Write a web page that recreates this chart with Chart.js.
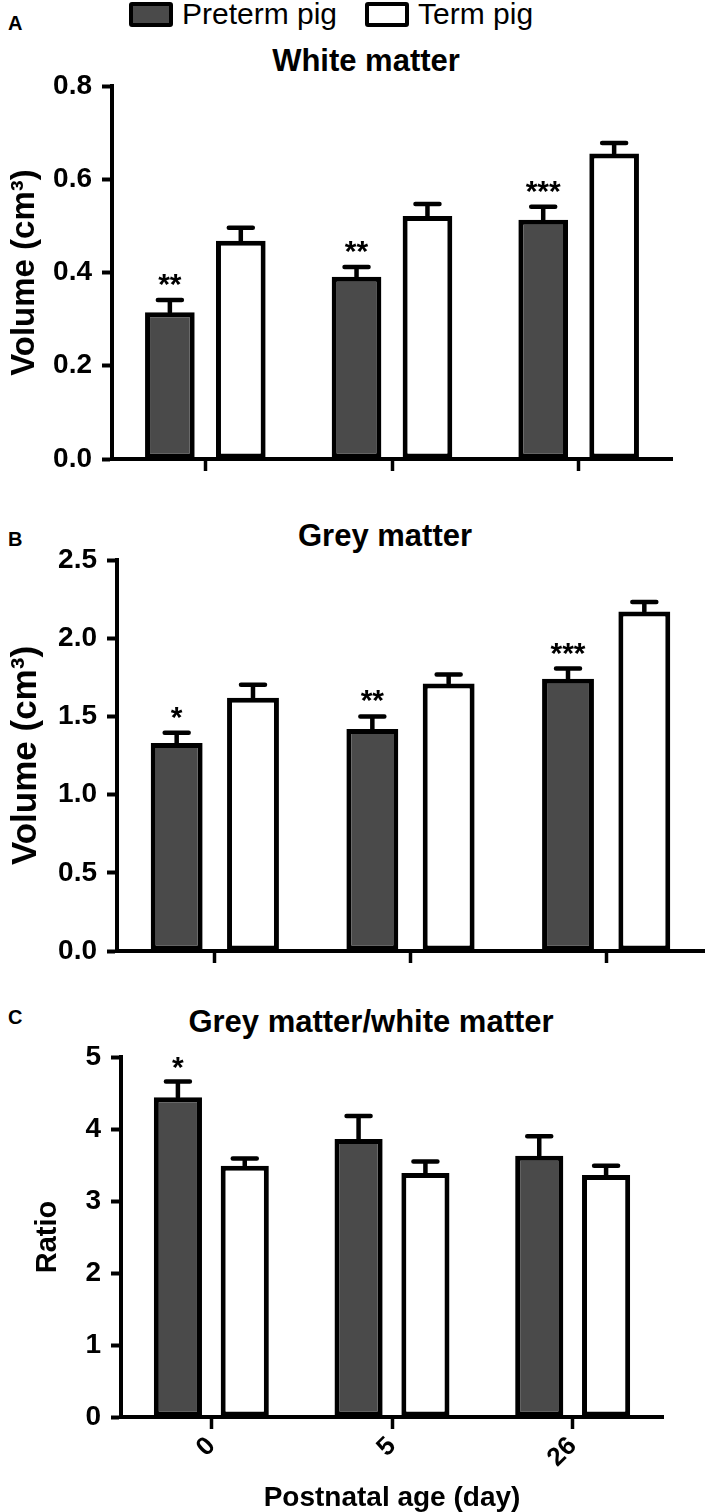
<!DOCTYPE html>
<html>
<head>
<meta charset="utf-8">
<script src="https://cdn.jsdelivr.net/npm/chart.js@4.4.0/dist/chart.umd.min.js"></script>
<style>
  body { margin: 0; background: #fff; width: 709px; height: 1512px; overflow: hidden; position: relative;
         font-family: 'Liberation Sans', Arial, sans-serif; color: #000; }
  canvas { position: absolute; left: 0; }
  .panel-letter { position: absolute; left: 8px; font-weight: bold; font-size: 20px; line-height: 20px; }
  .panel-title { position: absolute; font-weight: bold; font-size: 31px; line-height: 34px;
                 transform: translateX(-50%); white-space: nowrap; }
  .legend { position: absolute; top: 0; left: 129px; height: 28px; display: flex; align-items: center; font-size: 30px; }
  .swatch { width: 36px; height: 17px; border: 4.5px solid #000; border-radius: 3px; margin-right: 9px; }
  .legend span.txt { margin-right: 28px; }
</style>
</head>
<body>
<div class="legend">
  <div class="swatch" style="background:#4a4a4a"></div><span class="txt">Preterm pig</span>
  <div class="swatch" style="background:#fff"></div><span class="txt">Term pig</span>
</div>

<div class="panel-letter" style="top:13px">A</div>
<div class="panel-title" style="left:366px;top:44px">White matter</div>
<canvas id="chartA" width="709" height="490" style="top:0"></canvas>

<div class="panel-letter" style="top:529px">B</div>
<div class="panel-title" style="left:385px;top:519px">Grey matter</div>
<canvas id="chartB" width="709" height="490" style="top:490px"></canvas>

<div class="panel-letter" style="top:1007px">C</div>
<div class="panel-title" style="left:371px;top:1005px">Grey matter/white matter</div>
<canvas id="chartC" width="709" height="532" style="top:980px"></canvas>

<script>
// categories
const ages = ['0', '5', '26'];
const seriesNames = ['Preterm pig', 'Term pig'];

// A - white matter volume (cm3), mean and SEM
const whitePreterm = [0.315, 0.391, 0.513];
const whitePretermSem = [0.026, 0.021, 0.028];
const whiteTerm = [0.468, 0.521, 0.655];
const whiteTermSem = [0.028, 0.026, 0.023];
const whiteStars = ['**', '**', '***'];
const whiteTicks = [0, 0.2, 0.4, 0.6, 0.8];

// B - grey matter volume (cm3)
const greyPreterm = [1.33, 1.42, 1.74];
const greyPretermSem = [0.065, 0.08, 0.066];
const greyTerm = [1.62, 1.71, 2.17];
const greyTermSem = [0.082, 0.058, 0.062];
const greyStars = ['*', '**', '***'];
const greyTicks = [0, 0.5, 1.0, 1.5, 2.0, 2.5];

// C - grey/white ratio
const ratioPreterm = [4.44, 3.86, 3.63];
const ratioPretermSem = [0.22, 0.32, 0.27];
const ratioTerm = [3.49, 3.39, 3.36];
const ratioTermSem = [0.10, 0.16, 0.13];
const ratioStars = ['*', '', ''];
const ratioTicks = [0, 1, 2, 3, 4, 5];

const plainFont = "'Liberation Sans', Arial, sans-serif";

// draws the SEM whiskers (upper only) and the significance stars over preterm bars
const errorBars = {
    id: 'errorBars',
    afterDatasetsDraw(chart, args, opts) {
        const ctx = chart.ctx;
        const yScale = chart.scales.y;
        ctx.save();
        ctx.strokeStyle = '#000';
        ctx.lineWidth = 4.5;
        ctx.lineCap = 'round';
        chart.data.datasets.forEach((ds, i) => {
            chart.getDatasetMeta(i).data.forEach((bar, j) => {
                const top = yScale.getPixelForValue(ds.data[j] + ds.sem[j]);
                ctx.beginPath();
                ctx.moveTo(bar.x, bar.y);
                ctx.lineTo(bar.x, top);
                ctx.moveTo(bar.x - 12, top);
                ctx.lineTo(bar.x + 12, top);
                ctx.stroke();
            });
        });
        // stars
        const ds0 = chart.data.datasets[0];
        ctx.fillStyle = '#000';
        ctx.font = 'bold 30px ' + plainFont;
        ctx.textAlign = 'center';
        ctx.textBaseline = 'alphabetic';
        chart.getDatasetMeta(0).data.forEach((bar, j) => {
            if (!opts.stars[j]) return;
            const top = yScale.getPixelForValue(ds0.data[j] + ds0.sem[j]);
            ctx.fillText(opts.stars[j], bar.x, top + opts.starShift);
        });
        ctx.restore();
    }
};

function makePanel(id, cfg) {
    const barStyle = { borderColor: '#000', borderWidth: 5, borderSkipped: false,
                       categoryPercentage: cfg.cat, barPercentage: cfg.bar };
    return new Chart(document.getElementById(id), {
        type: 'bar',
        data: {
            labels: ages,
            datasets: [
                Object.assign({ label: seriesNames[0], data: cfg.preterm, sem: cfg.pretermSem, backgroundColor: '#4a4a4a' }, barStyle),
                Object.assign({ label: seriesNames[1], data: cfg.term, sem: cfg.termSem, backgroundColor: '#ffffff' }, barStyle)
            ]
        },
        options: {
            responsive: false,
            animation: false,
            events: [],
            layout: { padding: cfg.pad },
            plugins: {
                legend: { display: false },
                tooltip: { enabled: false },
                errorBars: { stars: cfg.stars, starShift: cfg.starShift }
            },
            scales: {
                x: {
                    offset: true,
                    grid: { offset: false, drawOnChartArea: false, tickLength: 12, tickWidth: 3.5, tickColor: '#000' },
                    border: { color: '#000', width: 4 },
                    ticks: {
                        display: cfg.xLabels,
                        color: '#000',
                        padding: 2,
                        minRotation: 45, maxRotation: 45,
                        font: { family: plainFont, weight: 'bold', size: 26 }
                    },
                    title: {
                        display: !!cfg.xTitle,
                        text: cfg.xTitle || '',
                        color: '#000',
                        font: { family: plainFont, weight: 'bold', size: 28, lineHeight: 1 },
                        padding: { top: 0, bottom: 0 }
                    },
                    afterFit: s => { s.height = cfg.xHeight; }
                },
                y: {
                    min: 0,
                    max: cfg.ticks[cfg.ticks.length - 1],
                    afterBuildTicks: s => { s.ticks = cfg.ticks.map(v => ({ value: v })); },
                    ticks: {
                        color: '#000',
                        padding: 10,
                        font: { family: plainFont, weight: 'bold', size: 28 },
                        callback: v => cfg.dec ? v.toFixed(1) : String(v)
                    },
                    grid: { drawOnChartArea: false, tickLength: 10, tickWidth: 4, tickColor: '#000' },
                    border: { color: '#000', width: 4 },
                    title: {
                        display: true,
                        text: cfg.yTitle,
                        color: '#000',
                        font: { family: plainFont, weight: 'bold', size: cfg.yTitleSize },
                        padding: { top: 5, bottom: 0 }
                    },
                    afterFit: s => { s.width = cfg.yWidth; }
                }
            }
        },
        plugins: [errorBars]
    });
}

makePanel('chartA', {
    preterm: whitePreterm, pretermSem: whitePretermSem,
    term: whiteTerm, termSem: whiteTermSem,
    stars: whiteStars, starShift: -6, ticks: whiteTicks, dec: true,
    cat: 0.76, bar: 0.70,
    pad: { top: 86, bottom: 11, left: 0, right: 37 },
    yWidth: 112, yTitle: 'Volume (cm³)', yTitleSize: 33,
    xLabels: false, xHeight: 20
});

makePanel('chartB', {
    preterm: greyPreterm, pretermSem: greyPretermSem,
    term: greyTerm, termSem: greyTermSem,
    stars: greyStars, starShift: -6, ticks: greyTicks, dec: true,
    cat: 0.78, bar: 0.68,
    pad: { top: 70, bottom: 9, left: 0, right: 5 },
    yWidth: 117, yTitle: 'Volume (cm³)', yTitleSize: 35,
    xLabels: false, xHeight: 20
});

makePanel('chartC', {
    preterm: ratioPreterm, pretermSem: ratioPretermSem,
    term: ratioTerm, termSem: ratioTermSem,
    stars: ratioStars, starShift: -4, ticks: ratioTicks, dec: false,
    cat: 0.74, bar: 0.72,
    pad: { top: 77, bottom: 0, left: 26, right: 46 },
    yWidth: 95, yTitle: 'Ratio', yTitleSize: 29,
    xLabels: true, xHeight: 95, xTitle: 'Postnatal age (day)'
});
</script>
</body>
</html>
